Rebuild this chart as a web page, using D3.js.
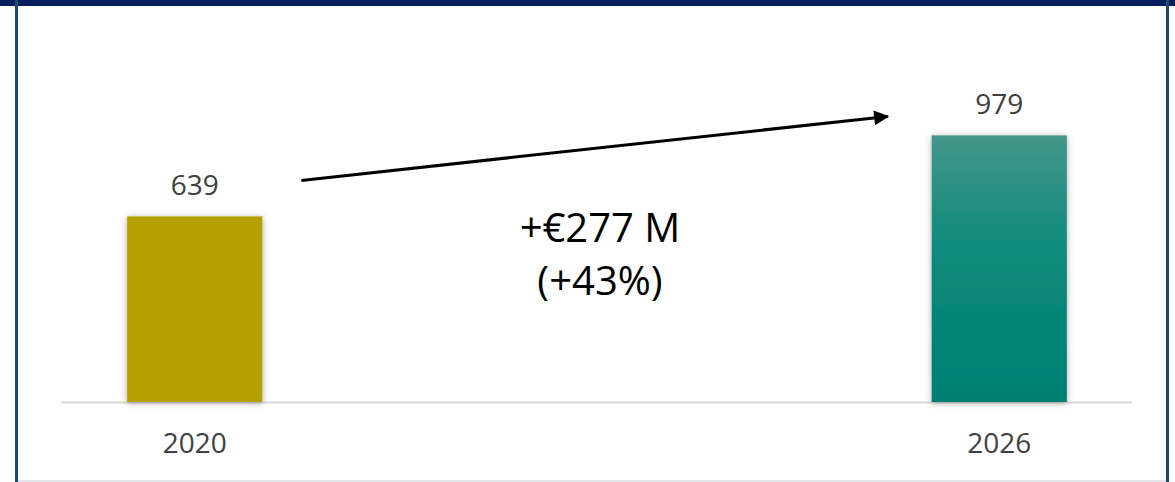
<!DOCTYPE html>
<html>
<head>
<meta charset="utf-8">
<script src="https://cdn.jsdelivr.net/npm/d3@7"></script>
<style>
  body { margin: 0; background: #fff; }
  svg { display: block; font-family: "Open Sans", Lato, sans-serif; }
</style>
</head>
<body>
<script>
// data
const years = ['2020', '2026'];
const revenue = [639, 979];
const barColors = ['#b5a000', 'url(#tealGrad)'];
const deltaLines = ['+€277 M', '(+43%)'];

const width = 1175, height = 482;
const svg = d3.select('body').append('svg')
  .attr('width', width)
  .attr('height', height);

const defs = svg.append('defs');
const grad = defs.append('linearGradient')
  .attr('id', 'tealGrad')
  .attr('x1', 0).attr('y1', 0).attr('x2', 0).attr('y2', 1);
grad.append('stop').attr('offset', '0%').attr('stop-color', '#45958a');
grad.append('stop').attr('offset', '45%').attr('stop-color', '#0a8a7b');
grad.append('stop').attr('offset', '100%').attr('stop-color', '#007f72');

const shadow = defs.append('filter')
  .attr('id', 'shadow')
  .attr('x', '-20%').attr('y', '-20%').attr('width', '140%').attr('height', '140%');
shadow.append('feDropShadow')
  .attr('dx', 0).attr('dy', 1).attr('stdDeviation', 3)
  .attr('flood-color', '#000').attr('flood-opacity', 0.35);

const marker = defs.append('marker')
  .attr('id', 'arrow')
  .attr('viewBox', '0 0 10 10')
  .attr('refX', 9).attr('refY', 5)
  .attr('markerWidth', 6).attr('markerHeight', 5)
  .attr('markerUnits', 'strokeWidth')
  .attr('orient', 'auto');
marker.append('path').attr('d', 'M0,0 L10,5 L0,10 Z').attr('fill', '#000');

// frame
svg.append('rect').attr('x', 0).attr('y', 0).attr('width', width).attr('height', 6).attr('fill', '#001f5c');
svg.append('rect').attr('x', 15).attr('y', 0).attr('width', 3).attr('height', height).attr('fill', '#174a72');
svg.append('rect').attr('x', 1166).attr('y', 0).attr('width', 3).attr('height', height).attr('fill', '#174a72');
svg.append('rect').attr('x', 18).attr('y', 480).attr('width', 1148).attr('height', 2).attr('fill', '#e4e4ec');

// scales
const x = d3.scaleBand()
  .domain(years)
  .range([62, 1132])
  .paddingInner(0.832)
  .paddingOuter(0.081);

const y = d3.scaleLinear()
  .domain([-140, 1000])
  .range([402, 130.4]);

// baseline
svg.append('line')
  .attr('x1', 61).attr('x2', 1132)
  .attr('y1', 402.5).attr('y2', 402.5)
  .attr('stroke', '#d9d9d9').attr('stroke-width', 2);

const data = years.map((yr, i) => ({ year: yr, value: revenue[i], color: barColors[i] }));

svg.selectAll('rect.bar')
  .data(data)
  .join('rect')
  .attr('class', 'bar')
  .attr('x', d => x(d.year))
  .attr('width', x.bandwidth())
  .attr('y', d => y(d.value))
  .attr('height', d => y.range()[0] - y(d.value))
  .attr('fill', d => d.color)
  .attr('filter', 'url(#shadow)');

svg.selectAll('text.val')
  .data(data)
  .join('text')
  .attr('class', 'val')
  .attr('x', d => x(d.year) + x.bandwidth() / 2)
  .attr('y', d => y(d.value) - 21)
  .attr('text-anchor', 'middle')
  .attr('font-size', 28)
  .attr('fill', '#404040')
  .text(d => d.value);

// category axis
const axis = svg.append('g')
  .attr('transform', 'translate(0,402)')
  .call(d3.axisBottom(x).tickSize(0).tickPadding(0));
axis.select('.domain').remove();
axis.selectAll('text')
  .attr('dy', 0)
  .attr('y', 51)
  .attr('font-family', '"Open Sans", Lato, sans-serif')
  .attr('font-size', 28)
  .attr('fill', '#404040');

// growth arrow
svg.append('line')
  .attr('x1', x(years[0]) + x.bandwidth() + 39)
  .attr('y1', y(revenue[0]) - 36)
  .attr('x2', x(years[1]) - 44)
  .attr('y2', y(revenue[1]) - 19)
  .attr('stroke', '#000')
  .attr('stroke-width', 3)
  .attr('marker-end', 'url(#arrow)');

svg.append('text')
  .attr('x', 600)
  .attr('text-anchor', 'middle')
  .attr('font-size', 40)
  .attr('fill', '#000')
  .selectAll('tspan')
  .data(deltaLines)
  .join('tspan')
  .attr('x', 600)
  .attr('y', (d, i) => 242 + i * 53)
  .text(d => d);
</script>
</body>
</html>
